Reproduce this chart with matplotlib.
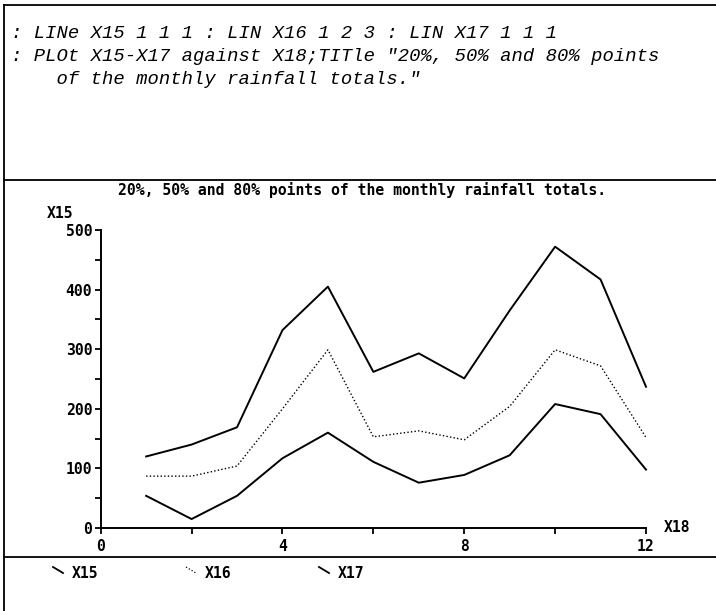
import matplotlib
matplotlib.use("Agg")
import matplotlib.pyplot as plt
from matplotlib.lines import Line2D
from matplotlib.ticker import MultipleLocator

# dados (pontos mensais de chuva)
meses = [1, 2, 3, 4, 5, 6, 7, 8, 9, 10, 11, 12]
x15 = [54, 15, 54, 117, 160, 111, 76, 89, 122, 208, 191, 98]      # 20%
x16 = [87, 87, 104, 200, 299, 153, 163, 148, 204, 299, 272, 152]   # 50%
x17 = [120, 140, 169, 332, 405, 262, 293, 251, 365, 472, 417, 237]  # 80%

series = [("X15", x15, "-"), ("X16", x16, (0, (1, 1.6))), ("X17", x17, "-")]

comandos = [
    ": LINe X15 1 1 1 : LIN X16 1 2 3 : LIN X17 1 1 1",
    ": PLOt X15-X17 against X18;TITle \"20%, 50% and 80% points",
    "    of the monthly rainfall totals.\"",
]
titulo = "20%, 50% and 80% points of the monthly rainfall totals."

W, H = 716, 611
def fx(px):
    return px / W
def fy(py):
    return 1 - py / H

fig = plt.figure(figsize=(7.16, 6.11), dpi=100)
mono = "DejaVu Sans Mono"

# moldura da tela
for (x0, y0, x1, y1) in [(4, 5, 4, 611), (4, 5, 716, 5), (4, 180, 716, 180), (4, 557, 716, 557)]:
    fig.add_artist(Line2D([fx(x0), fx(x1)], [fy(y0), fy(y1)], color="black", lw=1.3))

# linhas de comando
for i, linha in enumerate(comandos):
    fig.text(fx(11), fy(38 + 23 * i), linha, family="Liberation Mono", style="italic",
             fontsize=13.6, va="baseline", ha="left")

fig.text(fx(362), fy(190), titulo, family=mono, weight="bold", fontsize=10.6,
         ha="center", va="center")

ax = fig.add_axes([100.7 / W, 1 - 528 / H, 545.3 / W, 298 / H])
for nome, vals, ls in series:
    ax.plot(meses, vals, color="black", lw=1.4 if ls == "-" else 1.0, linestyle=ls,
            clip_on=False)

ax.set_xlim(0, 12)
ax.set_ylim(0, 500)
for s in ["top", "right"]:
    ax.spines[s].set_visible(False)
for s in ["left", "bottom"]:
    ax.spines[s].set_linewidth(1.4)
ax.xaxis.set_major_locator(MultipleLocator(4))
ax.xaxis.set_minor_locator(MultipleLocator(2))
ax.yaxis.set_major_locator(MultipleLocator(100))
ax.yaxis.set_minor_locator(MultipleLocator(50))
ax.tick_params(which="both", direction="out", length=4, width=1.3)
ax.tick_params(axis="y", pad=2)
ax.tick_params(axis="x", pad=4)
for lab in ax.get_xticklabels() + ax.get_yticklabels():
    lab.set_family(mono)
    lab.set_weight("bold")
    lab.set_fontsize(10.6)

fig.text(fx(60), fy(213), "X15", family=mono, weight="bold", fontsize=10.6, ha="center", va="center")
fig.text(fx(677), fy(527), "X18", family=mono, weight="bold", fontsize=10.6, ha="center", va="center")

# legenda
for i, (nome, vals, ls) in enumerate(series):
    x0 = 53 + 133 * i
    fig.add_artist(Line2D([fx(x0), fx(x0 + 10)], [fy(567), fy(573)], color="black",
                          lw=1.3 if ls == "-" else 0.9, linestyle=ls))
    fig.text(fx(x0 + 19), fy(573), nome, family=mono, weight="bold", fontsize=10.6,
             ha="left", va="center")

fig.savefig("out.png", dpi=100)
